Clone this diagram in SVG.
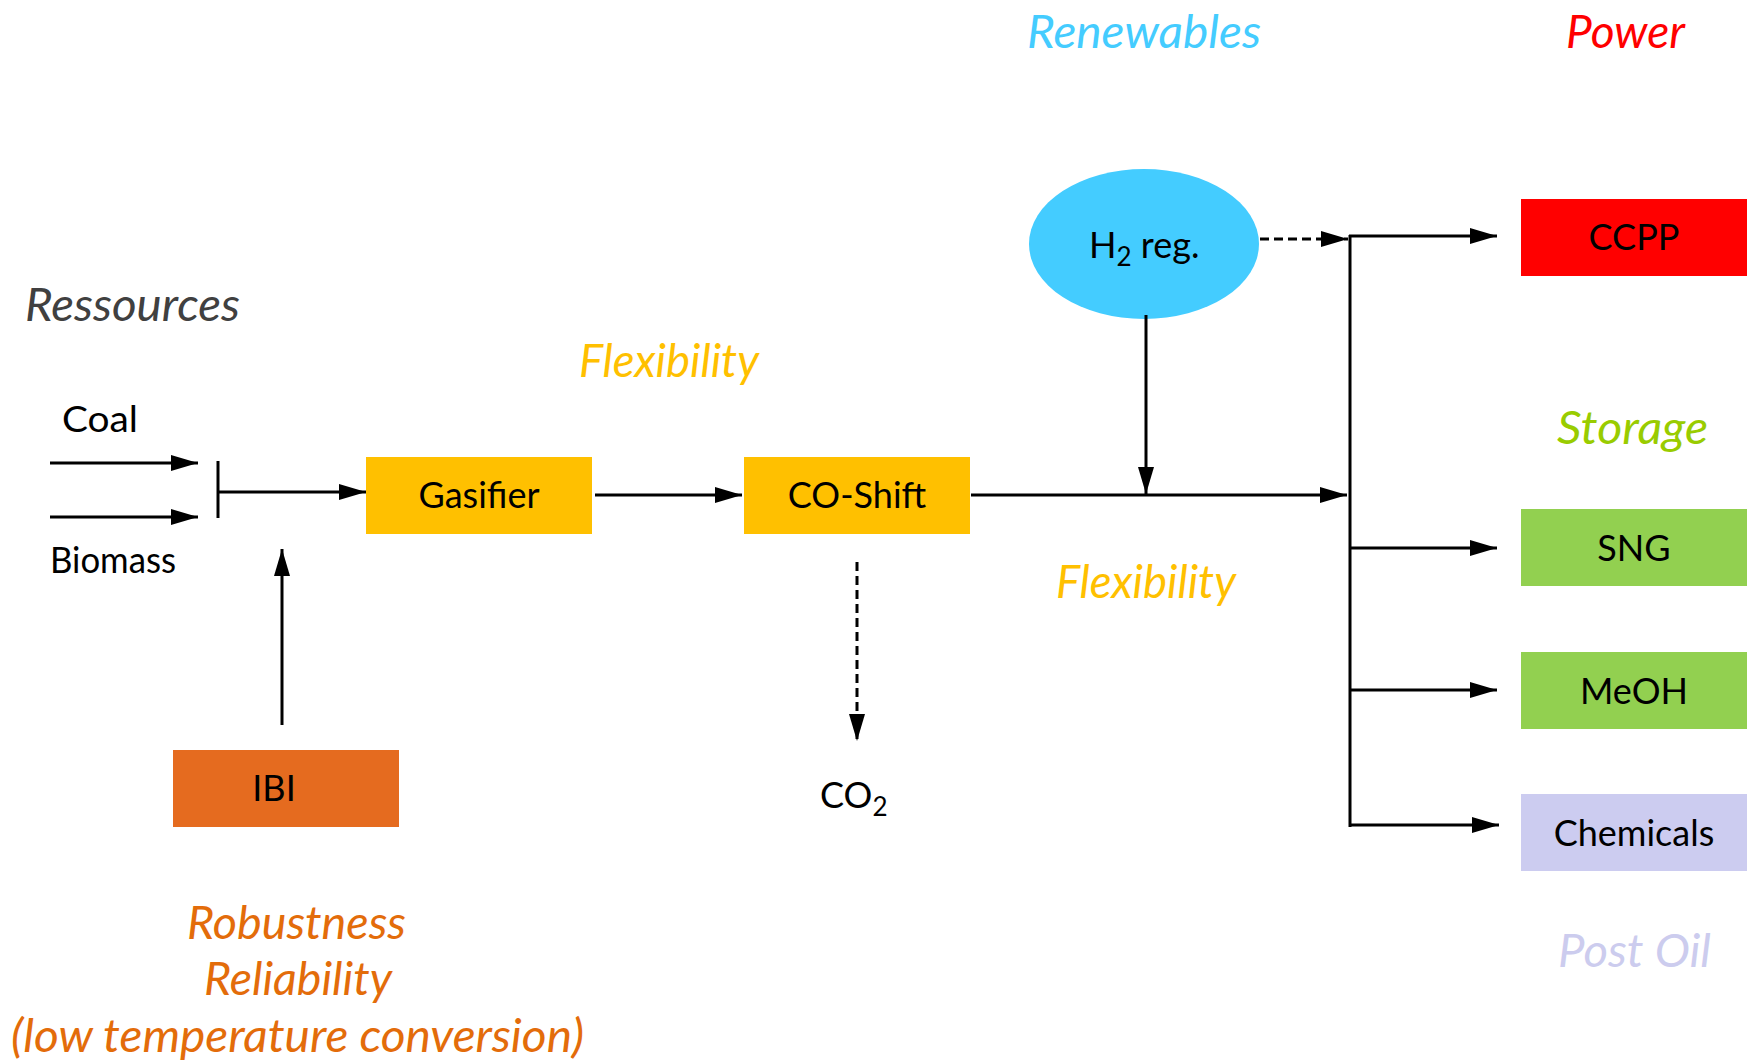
<svg xmlns="http://www.w3.org/2000/svg" width="1750" height="1063" viewBox="0 0 1750 1063">
<style>
.lbl{font-family:Lato,"Liberation Sans",sans-serif;font-size:36px;fill:#000;}
.ctr{text-anchor:middle;}
.it{font-family:Lato,"Liberation Sans",sans-serif;font-style:italic;font-size:46px;}
.ln{stroke:#000;stroke-width:3;fill:none;}
.dash{stroke-dasharray:9 5;}
</style>
<defs>
<marker id="ah" markerUnits="userSpaceOnUse" markerWidth="28" markerHeight="16" refX="27" refY="8" orient="auto">
<path d="M0,0 L27,8 L0,16 z" fill="#000"/>
</marker>
</defs>
<rect width="1750" height="1063" fill="#fff"/>

<g id="headings">
<text class="it" x="1027" y="48" fill="#44ccff" textLength="234" lengthAdjust="spacingAndGlyphs">Renewables</text>
<text class="it" x="1566" y="48" fill="#ff0000" textLength="119" lengthAdjust="spacingAndGlyphs">Power</text>
<text class="it" x="25" y="321" fill="#404040" textLength="215" lengthAdjust="spacingAndGlyphs">Ressources</text>
<text class="it" x="579" y="377" fill="#ffc000" textLength="180" lengthAdjust="spacingAndGlyphs">Flexibility</text>
<text class="it" x="1056" y="598" fill="#ffc000" textLength="180" lengthAdjust="spacingAndGlyphs">Flexibility</text>
<text class="it" x="1557" y="444" fill="#99cc00" textLength="151" lengthAdjust="spacingAndGlyphs">Storage</text>
<text class="it" x="1558" y="967" fill="#ccccee" textLength="153" lengthAdjust="spacingAndGlyphs">Post Oil</text>
<text class="it" x="187" y="939" fill="#e36c0a" textLength="219" lengthAdjust="spacingAndGlyphs">Robustness</text>
<text class="it" x="204" y="995" fill="#e36c0a" textLength="188" lengthAdjust="spacingAndGlyphs">Reliability</text>
<text class="it" x="11" y="1052" fill="#e36c0a" textLength="573" lengthAdjust="spacingAndGlyphs">(low temperature conversion)</text>
</g>

<g id="coal"><text class="lbl" x="62" y="432" textLength="76" lengthAdjust="spacingAndGlyphs">Coal</text></g>
<g id="biomass"><text class="lbl" x="50" y="573" textLength="126" lengthAdjust="spacingAndGlyphs">Biomass</text></g>

<g id="gasifier">
<rect x="366" y="457" width="226" height="77" fill="#ffc000"/>
<text class="lbl ctr" x="479" y="508">Gasifier</text>
</g>
<g id="coshift">
<rect x="744" y="457" width="226" height="77" fill="#ffc000"/>
<text class="lbl ctr" x="857" y="508">CO-Shift</text>
</g>
<g id="ibi">
<rect x="173" y="750" width="226" height="77" fill="#e56b1f"/>
<text class="lbl ctr" x="274" y="801">IBI</text>
</g>
<g id="h2reg">
<ellipse cx="1144" cy="244" rx="115" ry="75" fill="#44ccff"/>
<text class="lbl" x="1089" y="258">H<tspan font-size="26" dy="8">2</tspan><tspan dy="-8"> reg.</tspan></text>
</g>
<g id="co2">
<text class="lbl" x="820" y="808">CO<tspan font-size="26" dy="8">2</tspan></text>
</g>
<g id="ccpp">
<rect x="1521" y="199" width="226" height="77" fill="#ff0000"/>
<text class="lbl ctr" x="1634" y="250">CCPP</text>
</g>
<g id="sng">
<rect x="1521" y="509" width="226" height="77" fill="#92d050"/>
<text class="lbl ctr" x="1634" y="561">SNG</text>
</g>
<g id="meoh">
<rect x="1521" y="652" width="226" height="77" fill="#92d050"/>
<text class="lbl ctr" x="1634" y="704">MeOH</text>
</g>
<g id="chemicals">
<rect x="1521" y="794" width="226" height="77" fill="#ccccf0"/>
<text class="lbl ctr" x="1634" y="846">Chemicals</text>
</g>

<g id="connectors">
<line class="ln" x1="50" y1="463" x2="198" y2="463" marker-end="url(#ah)"/>
<line class="ln" x1="50" y1="517" x2="198" y2="517" marker-end="url(#ah)"/>
<line class="ln" x1="218" y1="461" x2="218" y2="518"/>
<line class="ln" x1="218" y1="492" x2="366" y2="492" marker-end="url(#ah)"/>
<line class="ln" x1="282" y1="725" x2="282" y2="549" marker-end="url(#ah)"/>
<line class="ln" x1="595" y1="495" x2="742" y2="495" marker-end="url(#ah)"/>
<line class="ln" x1="971" y1="495" x2="1347" y2="495" marker-end="url(#ah)"/>
<line class="ln" x1="1146" y1="315" x2="1146" y2="494" marker-end="url(#ah)"/>
<line class="ln dash" x1="1260" y1="239" x2="1348" y2="239" marker-end="url(#ah)"/>
<line class="ln dash" x1="857" y1="562" x2="857" y2="741" marker-end="url(#ah)"/>
<line class="ln" x1="1350" y1="235" x2="1350" y2="827"/>
<line class="ln" x1="1349" y1="236" x2="1497" y2="236" marker-end="url(#ah)"/>
<line class="ln" x1="1349" y1="548" x2="1497" y2="548" marker-end="url(#ah)"/>
<line class="ln" x1="1349" y1="690" x2="1497" y2="690" marker-end="url(#ah)"/>
<line class="ln" x1="1349" y1="825" x2="1499" y2="825" marker-end="url(#ah)"/>
</g>
</svg>
